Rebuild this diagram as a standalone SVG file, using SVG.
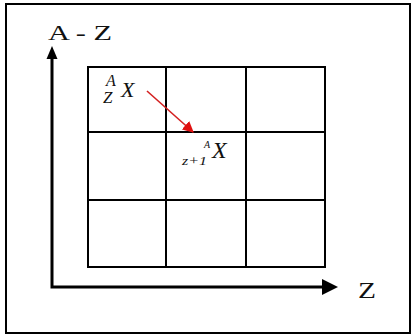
<svg xmlns="http://www.w3.org/2000/svg" width="411" height="336" viewBox="0 0 411 336">
<defs>
<style>
.grid{stroke:#000;stroke-width:2;fill:none}
.axis{stroke:#000;stroke-width:3;fill:none}
.lbl{font-family:"Liberation Serif","Times New Roman",serif;fill:#111}
.it{font-style:italic}
</style>
<marker id="redhead" viewBox="0 0 10 10" refX="9" refY="5" markerWidth="7" markerHeight="7" orient="auto" markerUnits="strokeWidth">
<path d="M0,0 L10,5 L0,10 z" fill="#e01010"/>
</marker>
</defs>
<rect x="0" y="0" width="411" height="336" fill="#fff"/>
<rect x="6" y="4" width="404" height="329" fill="none" stroke="#000" stroke-width="2"/>
<g id="grid">
<rect class="grid" x="88" y="67" width="237" height="200"/>
<line class="grid" x1="166" y1="67" x2="166" y2="267"/>
<line class="grid" x1="246" y1="67" x2="246" y2="267"/>
<line class="grid" x1="88" y1="132" x2="325" y2="132"/>
<line class="grid" x1="88" y1="200" x2="325" y2="200"/>
</g>
<g id="axes">
<polyline class="axis" points="52,58 52,287 324,287"/>
<polygon points="52,46 46.5,59 57.5,59" fill="#000"/>
<polygon points="338,287 322,279 322,295" fill="#000"/>
</g>
<g id="label-y"><text class="lbl" x="48" y="40" font-size="20" textLength="64" lengthAdjust="spacingAndGlyphs">A - Z</text></g>
<g id="label-x"><text class="lbl" x="358" y="298" font-size="24" textLength="18" lengthAdjust="spacingAndGlyphs">Z</text></g>
<g id="node-parent">
<text class="lbl it" x="106" y="86" font-size="16">A</text>
<text class="lbl it" x="103" y="103" font-size="17">Z</text>
<text class="lbl it" x="121" y="97" font-size="22">X</text>
</g>
<g id="node-daughter">
<text class="lbl it" x="182" y="165" font-size="12" textLength="25" lengthAdjust="spacingAndGlyphs">z+1</text>
<text class="lbl it" x="204" y="148" font-size="10">A</text>
<text class="lbl it" x="212" y="158" font-size="24">X</text>
</g>
<g id="connectors">
<line x1="147" y1="91" x2="193" y2="132" stroke="#d42020" stroke-width="1.6" marker-end="url(#redhead)"/>
</g>
</svg>
